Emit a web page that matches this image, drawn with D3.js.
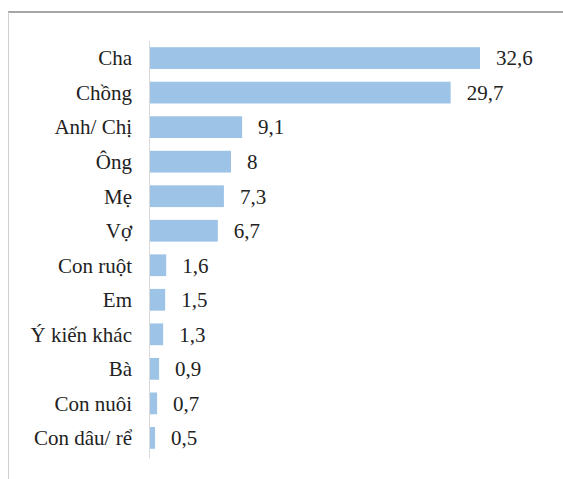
<!DOCTYPE html>
<html>
<head>
<meta charset="utf-8">
<script src="https://cdn.jsdelivr.net/npm/d3@7"></script>
<style>
  html, body { margin: 0; padding: 0; background: #fff; }
  svg { display: block; }
  .lbl { font-family: "Times New Roman", "Liberation Serif", Tinos, "DejaVu Serif", serif; font-size: 21px; fill: #222; }
</style>
</head>
<body>
<div id="chart"></div>
<script>
// Categories (top to bottom) and their percentages
const categories = ['Cha', 'Chồng', 'Anh/ Chị', 'Ông', 'Mẹ', 'Vợ', 'Con ruột', 'Em', 'Ý kiến khác', 'Bà', 'Con nuôi', 'Con dâu/ rể'];
const values = [32.6, 29.7, 9.1, 8, 7.3, 6.7, 1.6, 1.5, 1.3, 0.9, 0.7, 0.5];

const width = 563, height = 479;
const data = categories.map((c, i) => ({ cat: c, val: values[i] }));

const svg = d3.select('#chart').append('svg')
    .attr('width', width)
    .attr('height', height);

// Frame (cropped chart border)
svg.append('line')
    .attr('x1', 8).attr('x2', width).attr('y1', 12).attr('y2', 12)
    .attr('stroke', '#a6a6a6').attr('stroke-width', 2);
svg.append('line')
    .attr('x1', 8.5).attr('x2', 8.5).attr('y1', 12).attr('y2', height)
    .attr('stroke', '#cfcfcf').attr('stroke-width', 1);

// Scales
const x = d3.scaleLinear().domain([0, 32.6]).range([150, 480]);
const y = d3.scaleBand().domain(categories).range([41, 455]).paddingInner(0.37).paddingOuter(0.18);

// Axis line
svg.append('line')
    .attr('x1', 149.5).attr('x2', 149.5).attr('y1', 41).attr('y2', 458)
    .attr('stroke', '#d9d9d9');

// Bars
svg.append('g')
    .selectAll('rect')
    .data(data)
    .join('rect')
    .attr('x', x(0))
    .attr('y', d => y(d.cat))
    .attr('width', d => x(d.val) - x(0))
    .attr('height', y.bandwidth())
    .attr('fill', '#9dc3e6');

const fmt = v => String(v).replace('.', ',');

// Category labels
svg.append('g')
    .selectAll('text')
    .data(data)
    .join('text')
    .attr('class', 'lbl')
    .attr('x', 132)
    .attr('y', d => y(d.cat) + y.bandwidth() / 2)
    .attr('dy', '0.35em')
    .attr('text-anchor', 'end')
    .text(d => d.cat);

// Value labels
svg.append('g')
    .selectAll('text')
    .data(data)
    .join('text')
    .attr('class', 'lbl')
    .attr('x', d => x(d.val) + 16)
    .attr('y', d => y(d.cat) + y.bandwidth() / 2)
    .attr('dy', '0.35em')
    .text(d => fmt(d.val));
</script>
</body>
</html>
